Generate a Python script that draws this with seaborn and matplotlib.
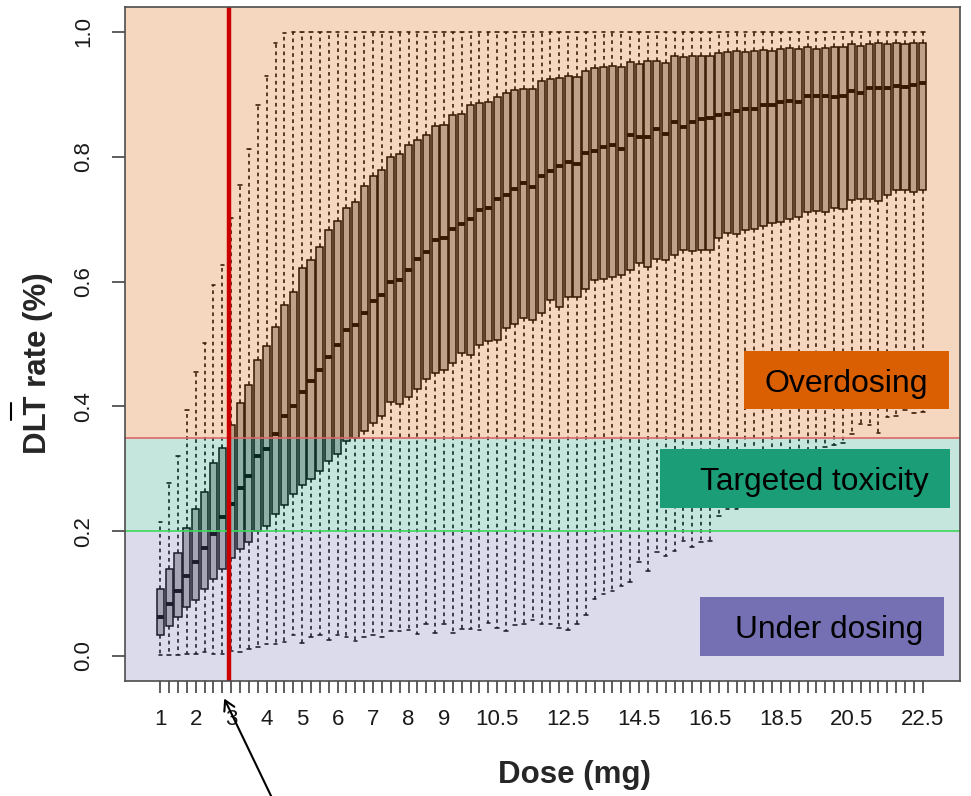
import numpy as np
import pandas as pd
import matplotlib
matplotlib.use("Agg")
import matplotlib.pyplot as plt
from matplotlib.patches import Rectangle, FancyArrowPatch
from matplotlib.lines import Line2D
import seaborn as sns

# Dose grid (mg) and per-dose summary of the simulated DLT rate
doses = np.arange(1.0, 22.75, 0.25)

whisker_low = [
    0.002, 0.002, 0.002, 0.003, 0.004, 0.006, 0.004, 0.004, 0.008, 0.006,
    0.011, 0.014, 0.019, 0.019, 0.022, 0.033, 0.021, 0.031, 0.033, 0.026,
    0.033, 0.030, 0.024, 0.031, 0.033, 0.030, 0.040, 0.040, 0.042, 0.036,
    0.051, 0.037, 0.051, 0.037, 0.044, 0.044, 0.042, 0.053, 0.045, 0.040,
    0.049, 0.052, 0.057, 0.051, 0.051, 0.045, 0.042, 0.051, 0.066, 0.092,
    0.100, 0.105, 0.112, 0.119, 0.150, 0.137, 0.166, 0.160, 0.168, 0.184,
    0.175, 0.183, 0.185, 0.225, 0.236, 0.236, 0.250, 0.262, 0.272, 0.284,
    0.293, 0.303, 0.312, 0.320, 0.328, 0.335, 0.338, 0.342, 0.356, 0.372,
    0.370, 0.358, 0.383, 0.385, 0.394, 0.389, 0.391,
]
quartile_1 = [
    0.033, 0.048, 0.063, 0.078, 0.090, 0.108, 0.123, 0.139, 0.157, 0.172,
    0.182, 0.200, 0.208, 0.227, 0.242, 0.259, 0.274, 0.284, 0.296, 0.312,
    0.323, 0.344, 0.349, 0.360, 0.373, 0.385, 0.407, 0.404, 0.415, 0.428,
    0.444, 0.453, 0.458, 0.470, 0.486, 0.482, 0.498, 0.505, 0.507, 0.526,
    0.532, 0.541, 0.538, 0.550, 0.570, 0.560, 0.576, 0.576, 0.588, 0.602,
    0.604, 0.607, 0.611, 0.618, 0.630, 0.624, 0.636, 0.634, 0.642, 0.650,
    0.649, 0.650, 0.650, 0.670, 0.678, 0.677, 0.682, 0.684, 0.689, 0.694,
    0.696, 0.701, 0.703, 0.711, 0.713, 0.711, 0.718, 0.717, 0.731, 0.733,
    0.733, 0.729, 0.739, 0.746, 0.746, 0.744, 0.747,
]
median = [
    0.063, 0.083, 0.104, 0.129, 0.150, 0.173, 0.196, 0.222, 0.243, 0.270,
    0.289, 0.320, 0.332, 0.355, 0.385, 0.400, 0.423, 0.441, 0.458, 0.479,
    0.498, 0.523, 0.531, 0.550, 0.569, 0.578, 0.600, 0.602, 0.618, 0.637,
    0.647, 0.666, 0.670, 0.684, 0.692, 0.701, 0.715, 0.718, 0.732, 0.738,
    0.749, 0.758, 0.751, 0.770, 0.777, 0.786, 0.791, 0.789, 0.806, 0.809,
    0.815, 0.819, 0.812, 0.835, 0.831, 0.831, 0.844, 0.836, 0.856, 0.847,
    0.856, 0.860, 0.862, 0.867, 0.869, 0.874, 0.876, 0.876, 0.883, 0.883,
    0.888, 0.890, 0.888, 0.897, 0.897, 0.897, 0.895, 0.897, 0.905, 0.902,
    0.910, 0.911, 0.910, 0.914, 0.912, 0.915, 0.919,
]
quartile_3 = [
    0.107, 0.140, 0.165, 0.205, 0.235, 0.263, 0.310, 0.334, 0.370, 0.405,
    0.435, 0.474, 0.496, 0.528, 0.562, 0.583, 0.622, 0.634, 0.656, 0.682,
    0.697, 0.718, 0.727, 0.753, 0.769, 0.779, 0.800, 0.804, 0.819, 0.827,
    0.835, 0.849, 0.851, 0.867, 0.869, 0.883, 0.886, 0.887, 0.895, 0.902,
    0.907, 0.909, 0.908, 0.921, 0.924, 0.926, 0.930, 0.928, 0.937, 0.942,
    0.944, 0.945, 0.944, 0.952, 0.949, 0.953, 0.954, 0.951, 0.961, 0.960,
    0.961, 0.962, 0.961, 0.967, 0.968, 0.969, 0.968, 0.969, 0.971, 0.969,
    0.973, 0.975, 0.973, 0.976, 0.973, 0.975, 0.976, 0.976, 0.980, 0.978,
    0.980, 0.982, 0.980, 0.983, 0.980, 0.983, 0.983,
]
whisker_high = [
    0.215, 0.278, 0.320, 0.395, 0.455, 0.501, 0.594, 0.627, 0.702, 0.754,
    0.812, 0.883, 0.930, 0.983, 0.998,
] + [1.0] * 72

# Labelled doses on the x axis
labelled_doses = [1, 2, 3, 4, 5, 6, 7, 8, 9, 10.5, 12.5, 14.5, 16.5, 18.5, 20.5, 22.5]

# Toxicity zones
under_upper = 0.20
target_upper = 0.35
selected_dose = 2.93

# Long table: five summary points per dose reproduce each box exactly
rows = []
for d, lo, a, m, b, hi in zip(doses, whisker_low, quartile_1, median, quartile_3, whisker_high):
    for v in (lo, a, m, b, hi):
        rows.append({"dose": d, "rate": v})
df = pd.DataFrame(rows)

sns.set_theme(style="white")
plt.rcParams["font.family"] = ["Liberation Sans", "DejaVu Sans"]

fig = plt.figure(figsize=(9.71, 7.96), dpi=100)
ax = fig.add_axes([125 / 971, 1 - 681 / 796, 835 / 971, 674 / 796])

sns.boxplot(
    data=df, x="dose", y="rate", order=list(doses), ax=ax,
    color="#b7b7b7", saturation=1, width=0.8, whis=(0, 100),
    linecolor="black", linewidth=1.1, fliersize=0,
    medianprops=dict(linewidth=2.8, color="black"),
    whiskerprops=dict(linestyle=(0, (2.3, 2.3)), linewidth=1.15, color="black"),
    capprops=dict(linewidth=1.15, color="black"),
)

# Translucent zone shading drawn over the boxes
ax.axhspan(-0.2, under_upper, color="#7570B3", alpha=0.25, lw=0, zorder=5)
ax.axhspan(under_upper, target_upper, color="#1B9E77", alpha=0.25, lw=0, zorder=5)
ax.axhspan(target_upper, 1.2, color="#D95F02", alpha=0.25, lw=0, zorder=5)
ax.axhline(target_upper, color="#e06666", lw=1.2, zorder=6)
ax.axhline(under_upper, color="#3fd85a", lw=1.2, zorder=6)

# Selected dose marker
sel_pos = (selected_dose - doses[0]) / (doses[1] - doses[0])
ax.axvline(sel_pos, color="#cc0000", lw=3.2, zorder=7)

ax.set_ylim(-0.04, 1.04)
ax.set_xlim(-3.98, 90.2)

ax.set_yticks([0.0, 0.2, 0.4, 0.6, 0.8, 1.0])
ax.set_yticklabels(["0.0", "0.2", "0.4", "0.6", "0.8", "1.0"], rotation=90, va="center")
ax.set_xticks(range(len(doses)))
xlabels = []
for d in doses:
    if any(abs(d - l) < 1e-9 for l in labelled_doses):
        xlabels.append(f"{d:g}")
    else:
        xlabels.append("")
ax.set_xticklabels(xlabels)

ax.tick_params(axis="y", length=9.5, width=1.1, color="#333333", pad=13,
               labelsize=16, labelcolor="#1a1a1a", left=True, direction="out")
ax.tick_params(axis="x", length=8.5, width=1.1, color="#333333", pad=12,
               labelsize=16, labelcolor="#1a1a1a", bottom=True, direction="out")
ax.set_xlabel("")
ax.set_ylabel("")
for side in ["left", "right", "top", "bottom"]:
    ax.spines[side].set_visible(True)
    ax.spines[side].set_color("#4d4d4d")
    ax.spines[side].set_linewidth(1.2)
    ax.spines[side].set_zorder(8)

# Axis titles
fig.text(574 / 971, 1 - 775 / 796, "Dose (mg)", ha="center", va="center",
         fontsize=22.5, fontweight="bold")
fig.text(38 / 971, 1 - 363 / 796, "DLT rate (%)", ha="center", va="center",
         rotation=90, fontsize=22.5, fontweight="bold")

# Zone labels
def zone_label(x0, y0, x1, y1, color, text, tx, ty, size):
    fig.add_artist(Rectangle((x0 / 971, 1 - y1 / 796), (x1 - x0) / 971, (y1 - y0) / 796,
                             transform=fig.transFigure, facecolor=color,
                             edgecolor="none", zorder=10))
    fig.text(tx / 971, 1 - ty / 796, text, ha="center", va="baseline",
             fontsize=size, color="black", zorder=11)

zone_label(744, 351, 949, 409, "#D95F02", "Overdosing", 846.5, 392, 23)
zone_label(660, 449, 950, 508, "#1B9E77", "Targeted toxicity", 814, 490, 22.8)
zone_label(700, 597, 944, 656, "#7570B3", "Under dosing", 829.5, 638, 22.8)

# Pointer to the selected dose
fig.add_artist(FancyArrowPatch((273 / 971, 1 - 800 / 796), (223 / 971, 1 - 696 / 796),
                               transform=fig.transFigure, arrowstyle="->,head_length=7,head_width=4",
                               color="black", lw=1.5, zorder=12))
fig.add_artist(Line2D([11 / 971, 11 / 971], [1 - 403 / 796, 1 - 420 / 796],
                      transform=fig.transFigure, color="black", lw=1.5))

fig.savefig("out.png", dpi=100)
